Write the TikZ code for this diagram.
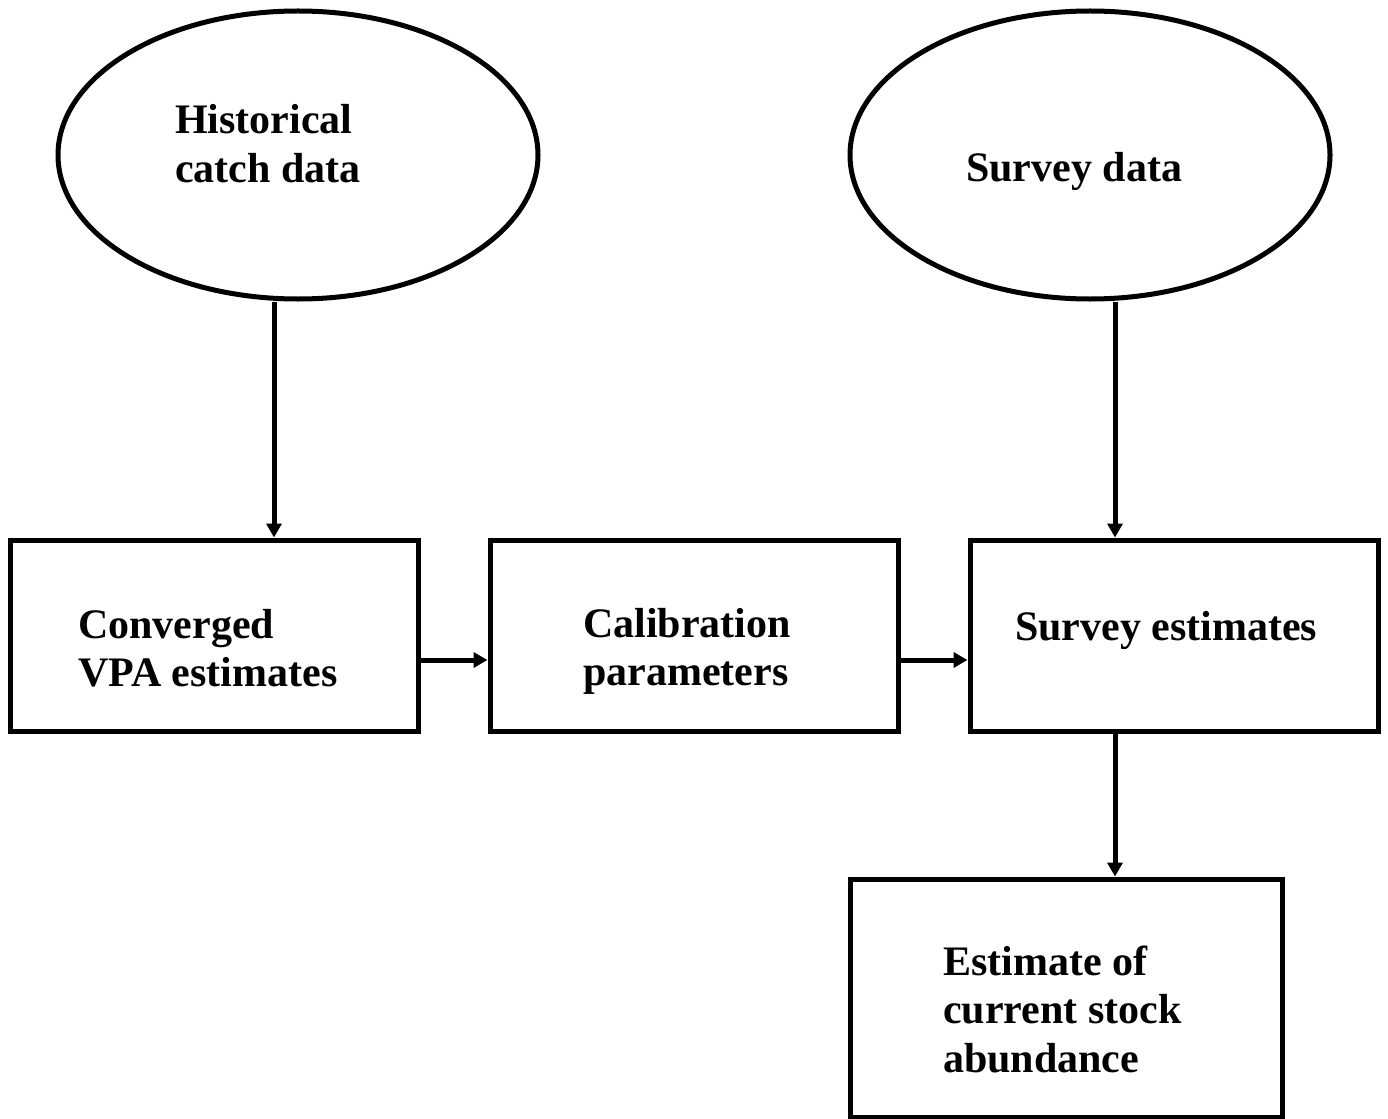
\documentclass[tikz,border=0pt]{standalone}
\usepackage{fontspec}
\setmainfont{Liberation Serif}
\usetikzlibrary{shapes.geometric,arrows.meta}
\tikzset{
  shapeline/.style={draw=black, line width=5pt, fill=none, inner sep=0pt},
  oval/.style={shapeline, ellipse, minimum width=480pt, minimum height=288pt},
  box/.style={shapeline, rectangle, minimum height=191pt, minimum width=408pt},
  lbl/.style={anchor=base west, inner sep=0pt, font=\fontsize{42}{48.5}\selectfont\bfseries},
  arr/.style={line width=5pt, -{Triangle[length=14pt,width=15pt]}}
}
\newcommand{\twolines}[2]{\begin{tabular}[t]{@{}l@{}}#1\\#2\end{tabular}}
\newcommand{\threelines}[3]{\begin{tabular}[t]{@{}l@{}}#1\\#2\\#3\end{tabular}}
\begin{document}
\begin{tikzpicture}[x=1pt,y=-1pt]
  \useasboundingbox (0,0) rectangle (1388,1118);
  % shapes
  \node[oval] (e1) at (298,155) {};
  \node[oval] (e2) at (1090,155) {};
  \node[box] (b1) at (214,635.5) {};
  \node[box] (b2) at (694,635.5) {};
  \node[box] (b3) at (1174,635.5) {};
  \node[box, minimum width=432pt, minimum height=238pt] (b4) at (1066,998) {};
  % texts
  \node[lbl] (t1) at (175,134) {\twolines{Historical}{catch data}};
  \node[lbl] (t2) at (966,182) {Survey data};
  \node[lbl] (t3) at (78,638) {\twolines{Converged}{VPA estimates}};
  \node[lbl] (t4) at (583,637) {\twolines{Calibration}{parameters}};
  \node[lbl] (t5) at (1015,640) {Survey estimates};
  \node[lbl] (t6) at (943,975) {\threelines{Estimate of}{current stock}{abundance}};
  % connector guides
  \coordinate (xa) at (274,0);
  \coordinate (xb) at (1115,0);
  \coordinate (yh) at (0,660);
  % connectors
  \draw[arr] (e1.south -| xa) -- (b1.north -| xa);
  \draw[arr] (e2.south -| xb) -- (b3.north -| xb);
  \draw[arr] (b1.east |- yh) -- (b2.west |- yh);
  \draw[arr] (b2.east |- yh) -- (b3.west |- yh);
  \draw[arr] (b3.south -| xb) -- (b4.north -| xb);
\end{tikzpicture}
\end{document}
